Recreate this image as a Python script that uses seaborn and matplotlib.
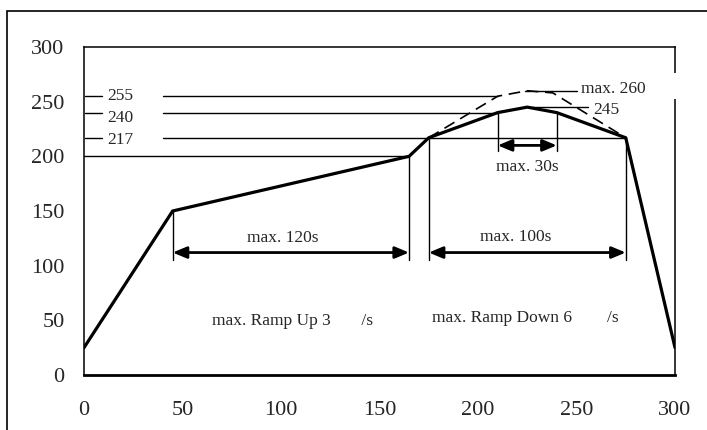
import matplotlib
matplotlib.use("Agg")
import matplotlib.pyplot as plt
import matplotlib.patches as mpatches
import pandas as pd
import seaborn as sns

# reflow profile (time s, temperature)
profile_t = [0, 45, 165, 175, 210, 225, 240, 275, 300]
profile_temp = [25, 150, 200, 217, 240, 245, 240, 217, 25]

# max. limit profile (dashed)
limit_t = [175, 210, 225, 238, 275]
limit_temp = [217, 255, 260, 258, 217]

level_labels = ["255", "240", "217"]
level_values = [255, 240, 217]
level_text_y = [255, 235, 215]

spans = [(45, 165, "max. 120s"), (175, 275, "max. 100s"), (210, 240, "max. 30s")]

sns.set_style("white")
plt.rcParams["font.family"] = ["Liberation Serif", "DejaVu Serif"]

fig = plt.figure(figsize=(7.07, 4.30), dpi=100)
ax = fig.add_axes([84 / 707, 1 - 375 / 430, (675 - 84) / 707, (375 - 47) / 430])

df_p = pd.DataFrame({"t": profile_t, "temp": profile_temp})
df_l = pd.DataFrame({"t": limit_t, "temp": limit_temp})
sns.lineplot(data=df_p, x="t", y="temp", ax=ax, color="black", lw=2.3,
             sort=False, zorder=5)
sns.lineplot(data=df_l, x="t", y="temp", ax=ax, color="black", lw=1.2,
             sort=False, linestyle=(0, (7, 4)), zorder=4)

thin = dict(color="black", lw=1.0, zorder=3)

# level lines with labels on the left
for lab, v, ty in zip(level_labels, level_values, level_text_y):
    ax.plot([0.5, 9], [v, v], **thin)
    ax.text(18.5, ty, lab, ha="center", va="center", fontsize=12.5)
ax.plot([40, 210], [255, 255], **thin)
ax.plot([40, 210], [240, 240], **thin)
ax.plot([40, 275], [217, 217], **thin)
ax.plot([0, 165], [200, 200], **thin)

# vertical extension lines
for x in [45, 165, 175, 275]:
    top = profile_temp[profile_t.index(x)]
    ax.plot([x, x], [105, top], **thin)
for x in [210, 240]:
    ax.plot([x, x], [205, 240], **thin)

# dimension arrows
arrow_y = {"max. 120s": 112, "max. 100s": 112, "max. 30s": 210}
for x0, x1, lab in spans:
    y = arrow_y[lab]
    ax.annotate("", xy=(x1, y), xytext=(x0, y),
                arrowprops=dict(arrowstyle="<|-|>,head_length=0.6,head_width=0.25",
                                color="black", lw=2,
                                mutation_scale=14, shrinkA=0, shrinkB=0))
ax.text(101, 125, "max. 120s", ha="center", va="center", fontsize=12.5)
ax.text(219, 126, "max. 100s", ha="center", va="center", fontsize=12.5)
ax.text(225, 190, "max. 30s", ha="center", va="center", fontsize=12.5)

# peak call-outs
ax.plot([224, 250], [260, 260], **thin)
ax.plot([225, 256], [245, 245], **thin)
ax.text(252.5, 261.5, "max. 260", ha="left", va="center", fontsize=12.5)
ax.text(258.5, 242.5, "245", ha="left", va="center", fontsize=12.5)
ax.add_patch(mpatches.Rectangle((297, 252), 6, 24, fc="white", ec="none",
                                clip_on=False, zorder=10))

# ramp texts (degree sign is missing in the original)
ax.text(65, 49, "max. Ramp Up 3       /s", ha="left", va="center", fontsize=12.5)
ax.text(176.5, 52, "max. Ramp Down 6        /s", ha="left", va="center", fontsize=12.5)

ax.set_xlim(0, 300)
ax.set_ylim(0, 300)
ax.set_xticks(range(0, 301, 50))
ax.set_yticks(range(0, 301, 50))
ax.set_xlabel("")
ax.set_ylabel("")
ax.tick_params(axis="x", direction="in", length=4, width=1, pad=19, labelsize=16)
ax.tick_params(axis="y", direction="in", length=4, width=1, pad=14, labelsize=16)
for s in ["left", "top", "right"]:
    ax.spines[s].set_linewidth(1.1)
    ax.spines[s].set_color("black")
ax.spines["bottom"].set_linewidth(2)
ax.spines["bottom"].set_color("black")

# outer frame, cut by the image edge on the right and bottom
fig.add_artist(mpatches.Rectangle((6.5 / 707, -0.2), 1.2, 1.2 - 10.7 / 430,
                                  transform=fig.transFigure, fill=False,
                                  ec="black", lw=1.2))

fig.savefig("out.png", dpi=100)
